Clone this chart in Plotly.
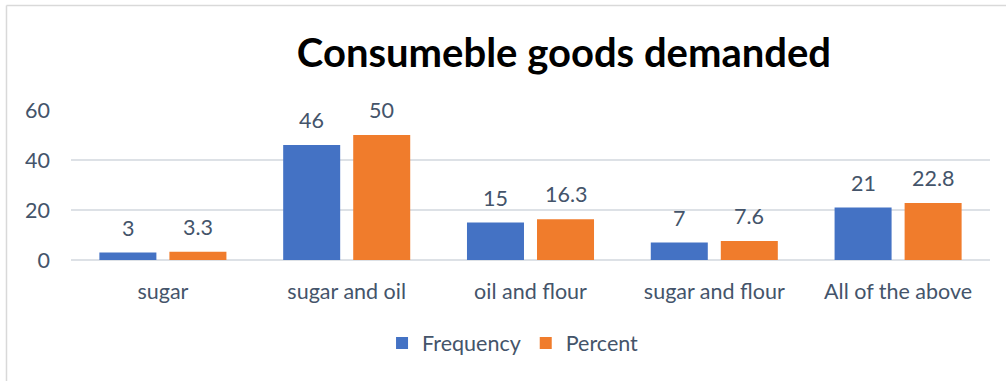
import plotly.graph_objects as go

categories = ["sugar", "sugar and oil", "oil and flour", "sugar and flour", "All of the above"]
frequency = [3, 46, 15, 7, 21]
percent = [3.3, 50, 16.3, 7.6, 22.8]
y_ticks = [0, 20, 40, 60]
title_text = "Consumeble goods demanded"

text_color = "#44546A"
font_family = "Lato"
fs = 21.5
blue = "#4472C4"
orange = "#F07C2C"

fig = go.Figure()
fig.add_trace(go.Bar(x=categories, y=frequency, name="Frequency",
                     marker=dict(color=blue, line=dict(width=0))))
fig.add_trace(go.Bar(x=categories, y=percent, name="Percent",
                     marker=dict(color=orange, line=dict(width=0))))

annotations = []
for vals, shift in ((frequency, -35), (percent, 35)):
    for c, v in zip(categories, vals):
        annotations.append(dict(x=c, y=v, xref="x", yref="y", text=str(v),
                                showarrow=False, xshift=shift, yshift=25,
                                font=dict(size=fs, color=text_color, family=font_family)))

fig.update_layout(
    width=1006, height=381,
    margin=dict(l=71, r=16, t=110, b=121),
    paper_bgcolor="white", plot_bgcolor="white",
    barmode="group", bargap=0.238, bargroupgap=0.186,
    font=dict(family=font_family, size=fs, color=text_color),
    title=dict(text="<b>" + title_text + "</b>", x=0.5606, xanchor="center",
               y=1 - 53 / 381, yanchor="middle", yref="container",
               font=dict(size=40, color="#000000", family=font_family)),
    showlegend=True,
    legend=dict(orientation="h", x=0.481, xanchor="center", y=-0.553, yanchor="middle",
                font=dict(size=fs, color=text_color), traceorder="normal"),
    annotations=annotations,
    shapes=[
        dict(type="line", xref="paper", yref="paper", x0=-0.0702, x1=1.02, y0=1.697, y1=1.697,
             line=dict(color="#D9D9D9", width=1.5)),
        dict(type="line", xref="paper", yref="paper", x0=-0.0702, x1=-0.0702, y0=1.697, y1=-0.82,
             line=dict(color="#D9D9D9", width=1.5)),
    ],
)
fig.update_xaxes(showgrid=False, showline=False, ticks="", ticklabelstandoff=16,
                 tickfont=dict(size=fs, color=text_color))
fig.update_yaxes(range=[0, 60], tickvals=y_ticks, showgrid=True, gridcolor="#DDE1E6",
                 gridwidth=1.5, zeroline=True, zerolinecolor="#DDE1E6", zerolinewidth=1.5,
                 showline=False, ticks="", ticklabelstandoff=20,
                 tickfont=dict(size=fs, color=text_color))

fig.write_html("out.html", config={"displayModeBar": False},
               post_script="document.body.style.margin='0';document.body.style.padding='0';")
